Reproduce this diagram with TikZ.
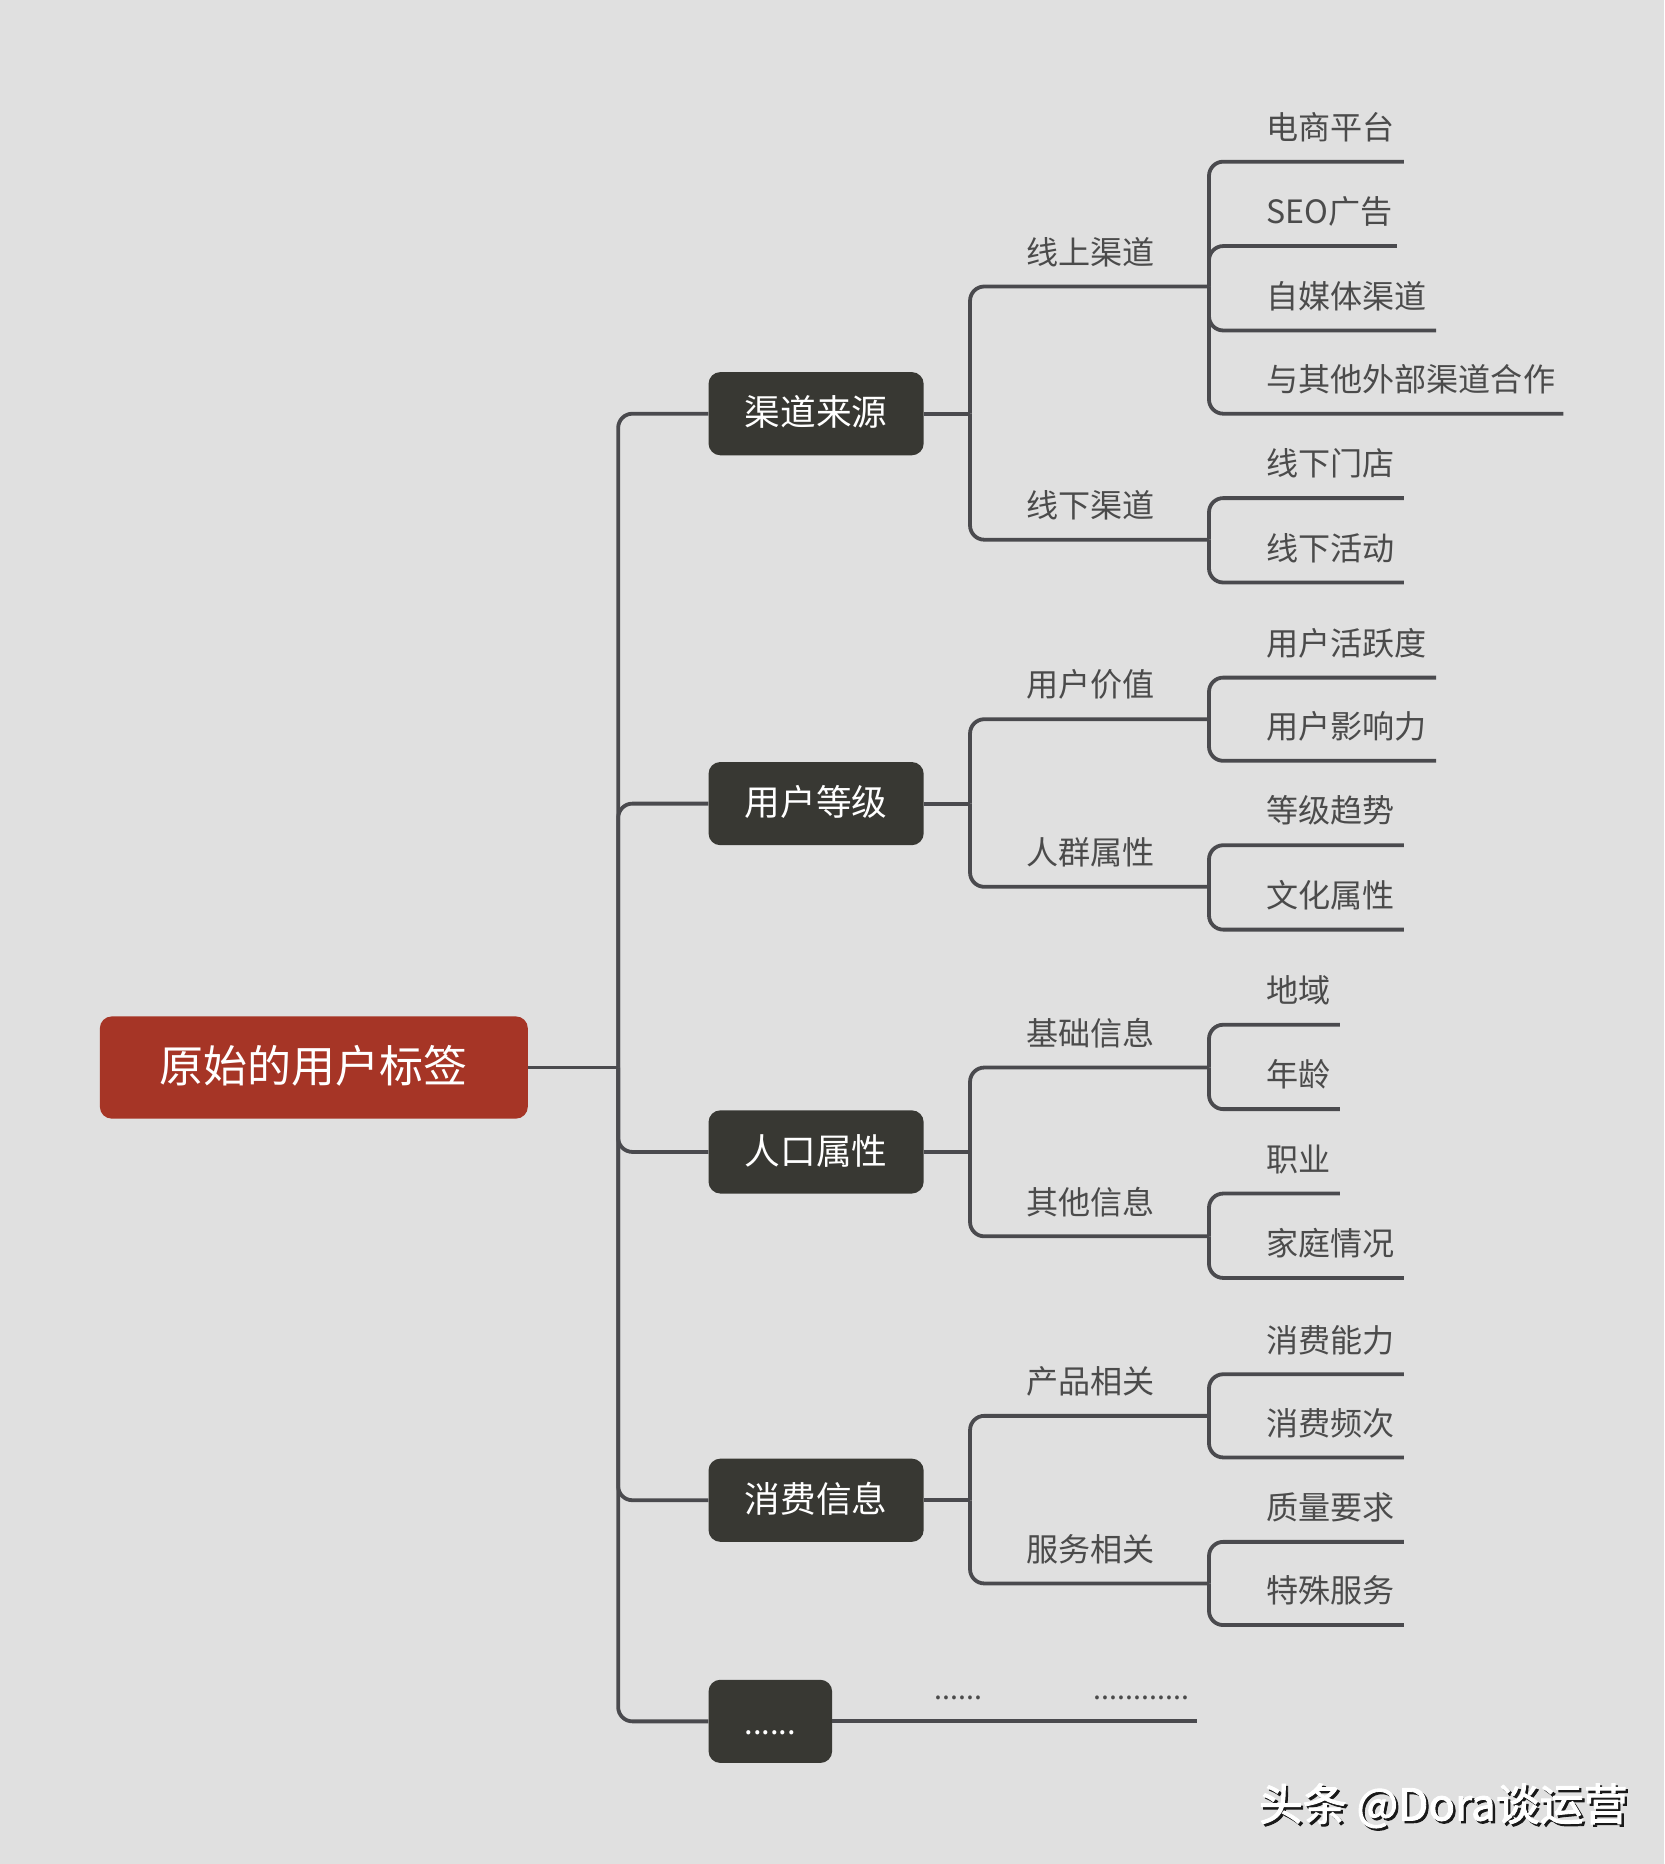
\documentclass[tikz,border=0pt]{standalone}
\usepackage{fontspec}
\newfontfamily\cjk{Noto Sans CJK SC}
\newfontfamily\cjkwm[FakeBold=2]{Noto Sans CJK SC}
\definecolor{bg}{HTML}{E0E0E0}
\definecolor{ln}{HTML}{4A4A4E}
\definecolor{dk}{HTML}{383833}
\definecolor{rd}{HTML}{A63526}
\definecolor{tx}{HTML}{4B4B4B}
\tikzset{
  conn/.style={draw=ln, line width=3.2pt, rounded corners=12pt},
  rootbox/.style={fill=rd, rounded corners=10pt, minimum width=360pt, minimum height=86pt, inner sep=0pt,
    text=white, font=\cjk\fontsize{37}{40}\selectfont, text height=0.88em, text depth=0.12em},
  lvone/.style={fill=dk, rounded corners=10pt, minimum width=181pt, minimum height=70pt, inner sep=0pt,
    text=white, font=\cjk\fontsize{30}{32}\selectfont, text height=0.88em, text depth=0.12em},
  lbl/.style={anchor=west, inner sep=0pt, text=tx, font=\cjk\fontsize{27}{30}\selectfont,
    text height=0.88em, text depth=0.12em, yshift=-6pt},
  dotlbl/.style={anchor=base west, inner sep=0pt, text=tx, font=\cjk\fontsize{24}{26}\selectfont},
  wmtext/.style={inner sep=0pt, font=\cjkwm\fontsize{37}{40}\selectfont}
}
\begin{document}
\begin{tikzpicture}[x=1pt,y=-1pt]
\fill[bg] (0,0) rectangle (1400,1568);
\useasboundingbox (0,0) rectangle (1400,1568);

% root and level-1 boxes
\node[rootbox] (root) at (264,898) {\raisebox{-9pt}{原始的用户标签}};
\node[lvone] (b1) at (686.5,348) {\raisebox{-6.5pt}{渠道来源}};
\node[lvone] (b2) at (686.5,676) {\raisebox{-6.5pt}{用户等级}};
\node[lvone] (b3) at (686.5,969) {\raisebox{-6.5pt}{人口属性}};
\node[lvone] (b4) at (686.5,1262) {\raisebox{-6.5pt}{消费信息}};
\node[lvone, minimum width=104pt] (b5) at (648,1448) {\fontsize{26}{28}\selectfont\raisebox{-7pt}{......}};

% trunk
\coordinate (j0) at (520,898);
\draw[conn] (root.east) -- (j0);
\draw[conn] (j0) |- (b1.west);
\draw[conn] (j0) |- (b2.west);
\draw[conn] (j0) |- (b3.west);
\draw[conn] (j0) |- (b4.west);
\draw[conn] (j0) |- (b5.west);

% ---------- group 1: 渠道来源
\coordinate (j1) at (816,348);
\draw[conn] (b1.east) -- (j1);
\coordinate (j11) at (1017,241);
\coordinate (j12) at (1017,454);
\draw[conn] (j1) |- (j11);
\draw[conn] (j1) |- (j12);
\node[lbl] (l11) at (863,212.5) {线上渠道};
\node[lbl] (l12) at (863,425.5) {线下渠道};
\node[lbl] (t111) at (1065,107.5) {电商平台};
\node[lbl] (t112) at (1065,178.5) {SEO广告};
\node[lbl] (t113) at (1065,249.5) {自媒体渠道};
\node[lbl] (t114) at (1065,319.5) {与其他外部渠道合作};
\coordinate (e111) at (1181,136);
\coordinate (e112) at (1175,207);
\coordinate (e113) at (1208,278);
\coordinate (e114) at (1315,348);
\draw[conn] (j11) |- (e111);
\draw[conn] (j11) |- (e112);
\draw[conn] (j11) |- (e113);
\draw[conn] (j11) |- (e114);
\node[lbl] (t121) at (1065,390.5) {线下门店};
\node[lbl] (t122) at (1065,461.5) {线下活动};
\coordinate (e121) at (1181,419);
\coordinate (e122) at (1181,490);
\draw[conn] (j12) |- (e121);
\draw[conn] (j12) |- (e122);

% ---------- group 2: 用户等级
\coordinate (j2) at (816,676);
\draw[conn] (b2.east) -- (j2);
\coordinate (j21) at (1017,605);
\coordinate (j22) at (1017,746);
\draw[conn] (j2) |- (j21);
\draw[conn] (j2) |- (j22);
\node[lbl] (l21) at (863,576.5) {用户价值};
\node[lbl] (l22) at (863,717.5) {人群属性};
\node[lbl] (t211) at (1065,541.5) {用户活跃度};
\node[lbl] (t212) at (1065,611.5) {用户影响力};
\coordinate (e211) at (1208,570);
\coordinate (e212) at (1208,640);
\draw[conn] (j21) |- (e211);
\draw[conn] (j21) |- (e212);
\node[lbl] (t221) at (1065,682.5) {等级趋势};
\node[lbl] (t222) at (1065,753.5) {文化属性};
\coordinate (e221) at (1181,711);
\coordinate (e222) at (1181,782);
\draw[conn] (j22) |- (e221);
\draw[conn] (j22) |- (e222);

% ---------- group 3: 人口属性
\coordinate (j3) at (816,969);
\draw[conn] (b3.east) -- (j3);
\coordinate (j31) at (1017,898);
\coordinate (j32) at (1017,1040);
\draw[conn] (j3) |- (j31);
\draw[conn] (j3) |- (j32);
\node[lbl] (l31) at (863,869.5) {基础信息};
\node[lbl] (l32) at (863,1011.5) {其他信息};
\node[lbl] (t311) at (1065,833.5) {地域};
\node[lbl] (t312) at (1065,904.5) {年龄};
\coordinate (e311) at (1127,862);
\coordinate (e312) at (1127,933);
\draw[conn] (j31) |- (e311);
\draw[conn] (j31) |- (e312);
\node[lbl] (t321) at (1065,975.5) {职业};
\node[lbl] (t322) at (1065,1046.5) {家庭情况};
\coordinate (e321) at (1127,1004);
\coordinate (e322) at (1181,1075);
\draw[conn] (j32) |- (e321);
\draw[conn] (j32) |- (e322);

% ---------- group 4: 消费信息
\coordinate (j4) at (816,1262);
\draw[conn] (b4.east) -- (j4);
\coordinate (j41) at (1017,1191);
\coordinate (j42) at (1017,1332);
\draw[conn] (j4) |- (j41);
\draw[conn] (j4) |- (j42);
\node[lbl] (l41) at (863,1162.5) {产品相关};
\node[lbl] (l42) at (863,1303.5) {服务相关};
\node[lbl] (t411) at (1065,1127.5) {消费能力};
\node[lbl] (t412) at (1065,1197.5) {消费频次};
\coordinate (e411) at (1181,1156);
\coordinate (e412) at (1181,1226);
\draw[conn] (j41) |- (e411);
\draw[conn] (j41) |- (e412);
\node[lbl] (t421) at (1065,1268.5) {质量要求};
\node[lbl] (t422) at (1065,1338.5) {特殊服务};
\coordinate (e421) at (1181,1297);
\coordinate (e422) at (1181,1367);
\draw[conn] (j42) |- (e421);
\draw[conn] (j42) |- (e422);

% ---------- group 5: ......
\coordinate (e5) at (1007,1448);
\draw[conn] (b5.east) -- (e5);
\node[dotlbl] (l51) at (786,1430) {......};
\node[dotlbl] (l52) at (920,1430) {............};

% watermark
\node[wmtext, text=black!90] (wms) at (1216,1521) {头条 @Dora谈运营};
\node[wmtext, text=white] (wm) at (1214,1519) {头条 @Dora谈运营};
\end{tikzpicture}
\end{document}
